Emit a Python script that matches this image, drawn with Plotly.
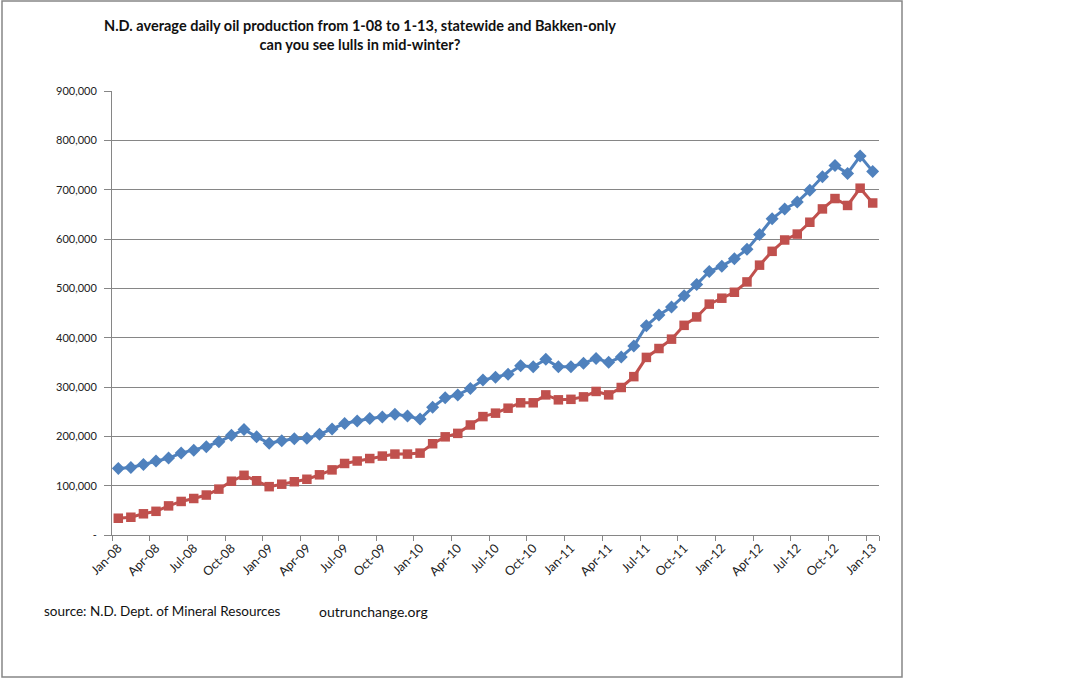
import plotly.graph_objects as go

months = [
    "Jan-08","Feb-08","Mar-08","Apr-08","May-08","Jun-08","Jul-08","Aug-08","Sep-08","Oct-08","Nov-08","Dec-08",
    "Jan-09","Feb-09","Mar-09","Apr-09","May-09","Jun-09","Jul-09","Aug-09","Sep-09","Oct-09","Nov-09","Dec-09",
    "Jan-10","Feb-10","Mar-10","Apr-10","May-10","Jun-10","Jul-10","Aug-10","Sep-10","Oct-10","Nov-10","Dec-10",
    "Jan-11","Feb-11","Mar-11","Apr-11","May-11","Jun-11","Jul-11","Aug-11","Sep-11","Oct-11","Nov-11","Dec-11",
    "Jan-12","Feb-12","Mar-12","Apr-12","May-12","Jun-12","Jul-12","Aug-12","Sep-12","Oct-12","Nov-12","Dec-12",
    "Jan-13",
]

statewide = [
    135000, 137000, 143000, 150000, 156000, 166000, 172000, 179000, 189000, 202000, 214000, 199000,
    186000, 191000, 195000, 196000, 204000, 215000, 226000, 231000, 236000, 239000, 245000, 241000,
    235000, 259000, 278000, 284000, 297000, 314000, 320000, 326000, 343000, 341000, 356000, 341000,
    341000, 348000, 358000, 350000, 361000, 383000, 424000, 446000, 462000, 485000, 508000, 534000,
    545000, 560000, 579000, 609000, 641000, 661000, 675000, 699000, 726000, 749000, 733000, 768000,
    737000,
]

bakken = [
    34000, 36000, 43000, 48000, 59000, 68000, 74000, 81000, 93000, 109000, 121000, 110000,
    98000, 103000, 108000, 113000, 122000, 132000, 145000, 150000, 155000, 160000, 164000, 164000,
    166000, 185000, 199000, 206000, 223000, 240000, 247000, 257000, 268000, 268000, 284000, 274000,
    275000, 280000, 291000, 284000, 299000, 321000, 360000, 378000, 397000, 425000, 442000, 468000,
    480000, 492000, 513000, 547000, 575000, 598000, 610000, 634000, 661000, 682000, 668000, 703000,
    673000,
]

y_tickvals = [0, 100000, 200000, 300000, 400000, 500000, 600000, 700000, 800000, 900000]
y_ticktext = ["-", "100,000", "200,000", "300,000", "400,000", "500,000",
              "600,000", "700,000", "800,000", "900,000"]
x_tickvals = months[::3]

title_text = ("N.D. average daily oil production from 1-08 to 1-13, statewide and Bakken-only"
              "<br>can you see lulls in mid-winter?")
footer_source = "source: N.D. Dept. of Mineral Resources"
footer_site = "outrunchange.org"

BLUE = "#4F81BD"
RED = "#C0504D"
GRID = "#868686"
FONT = "Lato, 'Noto Sans', sans-serif"

W, H = 1089, 679
L, R, T, B = 112, 879, 91, 535

fig = go.Figure()
fig.add_trace(go.Scatter(
    x=months, y=statewide, mode="lines+markers", name="statewide",
    line=dict(color=BLUE, width=3),
    marker=dict(symbol="diamond", size=10, color=BLUE),
))
fig.add_trace(go.Scatter(
    x=months, y=bakken, mode="lines+markers", name="Bakken",
    line=dict(color=RED, width=3),
    marker=dict(symbol="square", size=9.5, color=RED),
))

def px_x(x):
    return (x - L) / (R - L)

def px_y(y):
    return (B - y) / (B - T)

fig.update_layout(
    width=W, height=H,
    margin=dict(l=L, r=W - R, t=T, b=H - B),
    paper_bgcolor="white", plot_bgcolor="white",
    showlegend=False,
    font=dict(family=FONT, size=12, color="#222222"),
    xaxis=dict(
        type="category", categoryorder="array", categoryarray=months,
        tickmode="array", tickvals=x_tickvals, ticktext=x_tickvals,
        tickson="boundaries", ticks="outside", ticklen=5, tickcolor=GRID,
        tickangle=-45, showgrid=False, showline=True, linecolor=GRID, linewidth=1,
        tickfont=dict(family=FONT, size=12.5, color="#222222"),
        range=[-0.5, len(months) - 0.5],
    ),
    yaxis=dict(
        range=[0, 900000], tickmode="array", tickvals=y_tickvals, ticktext=y_ticktext,
        ticks="outside", ticklen=7, tickcolor=GRID, ticklabelstandoff=5,
        showgrid=True, gridcolor=GRID, gridwidth=1,
        showline=True, linecolor=GRID, linewidth=1, zeroline=False,
        tickfont=dict(family=FONT, size=11, color="#222222"),
    ),
    annotations=[
        dict(text="<b>" + title_text + "</b>", xref="paper", yref="paper",
             x=px_x(360), y=px_y(35), xanchor="center", yanchor="middle",
             showarrow=False, font=dict(family=FONT, size=14.5, color="#111111")),
        dict(text=footer_source, xref="paper", yref="paper",
             x=px_x(42), y=px_y(611), xanchor="left", yanchor="middle",
             showarrow=False, font=dict(family=FONT, size=13.5, color="#111111")),
        dict(text=footer_site, xref="paper", yref="paper",
             x=px_x(317), y=px_y(611), xanchor="left", yanchor="middle",
             showarrow=False, font=dict(family=FONT, size=14, color="#111111")),
    ],
    shapes=[
        dict(type="rect", xref="paper", yref="paper",
             x0=px_x(2), x1=px_x(902), y0=px_y(677), y1=px_y(1),
             line=dict(color=GRID, width=1.5), fillcolor="rgba(0,0,0,0)", layer="below"),
    ],
)

fig.write_html("out.html", config={"displayModeBar": False},
               post_script="document.body.style.margin='0';")
